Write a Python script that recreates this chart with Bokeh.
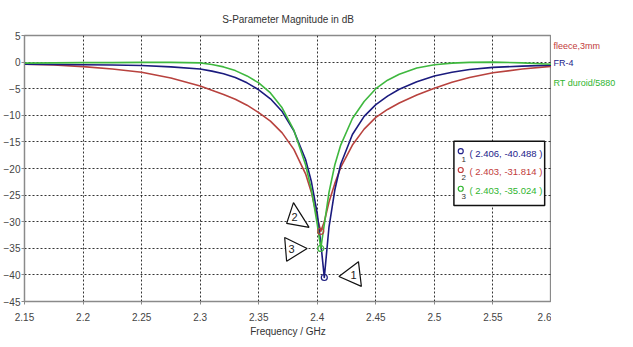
from bokeh.plotting import figure
from bokeh.layouts import row
from bokeh.models import FixedTicker, Range1d
from bokeh.embed import file_html
from bokeh.resources import INLINE
from bokeh.core.properties import value

# ---------------- data ----------------
freq   = [2.15, 2.175, 2.2, 2.225, 2.25, 2.275, 2.3, 2.31, 2.32, 2.33, 2.34, 2.35, 2.36,
          2.37, 2.38, 2.39, 2.395, 2.4, 2.403, 2.406, 2.41, 2.415, 2.42, 2.43, 2.44,
          2.45, 2.46, 2.47, 2.485, 2.5, 2.515, 2.53, 2.55, 2.575, 2.6]
fleece = [-0.4, -0.55, -0.85, -1.3, -1.9, -3.0, -4.5, -5.3, -6.1, -7.0, -8.1, -9.5, -11.1,
          -13.3, -16.4, -21.0, -24.5, -29.3, -31.814, -30.0, -26.3, -22.8, -19.8, -15.6, -12.6,
          -10.4, -8.9, -7.7, -6.2, -4.9, -3.8, -2.9, -2.0, -1.3, -0.8]
fr4    = [-0.4, -0.45, -0.5, -0.55, -0.65, -0.9, -1.3, -1.7, -2.2, -2.9, -3.9, -5.2, -6.9,
          -9.3, -12.9, -18.3, -22.5, -28.5, -34.0, -40.488, -31.0, -24.0, -19.2, -13.6, -10.2,
          -8.0, -6.4, -5.1, -3.7, -2.6, -1.9, -1.4, -1.0, -0.75, -0.6]
rt     = [-0.2, -0.15, -0.1, -0.1, -0.05, -0.05, -0.15, -0.45, -0.9, -1.6, -2.6, -3.9, -5.8,
          -8.6, -12.8, -19.3, -24.0, -30.5, -35.024, -30.5, -24.5, -19.3, -15.6, -10.6, -7.4,
          -5.0, -3.4, -2.3, -1.1, -0.5, -0.2, -0.05, 0.0, -0.15, -0.4]
series_names = ["fleece,3mm", "FR-4", "RT duroid/5880"]

marker_ids  = ["1", "2", "3"]
marker_freq = [2.406, 2.403, 2.403]
marker_db   = [-40.488, -31.814, -35.024]

x_ticks = [2.15, 2.2, 2.25, 2.3, 2.35, 2.4, 2.45, 2.5, 2.55, 2.6]
x_tick_labels = ["2.15", "2.2", "2.25", "2.3", "2.35", "2.4", "2.45", "2.5", "2.55", "2.6"]
y_ticks = [-45, -40, -35, -30, -25, -20, -15, -10, -5, 0, 5]

# ---------------- style / layout ----------------
FONT = "Liberation Sans"
RED, BLUE, GREEN = "#b8423e", "#1b1b7e", "#3fb83f"
TXT_RED, TXT_BLUE, TXT_GREEN = "#c23b3b", "#22228a", "#2fb52f"
series_colors = [RED, BLUE, GREEN]
series_text_colors = [TXT_RED, TXT_BLUE, TXT_GREEN]
marker_colors = [BLUE, RED, GREEN]
marker_text_colors = [TXT_BLUE, TXT_RED, TXT_GREEN]
BORDER = "#8a8a8a"

W_TOTAL, H = 617, 339
FL, FT, FR, FB = 18, 35, 0, 35   # borders of the main figure
W_MAIN = 551
W_SIDE = W_TOTAL - W_MAIN
X0, X1, Y0, Y1 = 2.15, 2.6, -45, 5

# map a position measured on the 633x347 reference to data coordinates
R_L, R_R, R_T, R_B = 23.0, 563.0, 35.0, 304.0
def rx(px):
    return X0 + (px - R_L) / (R_R - R_L) * (X1 - X0)
def ry(py):
    return Y1 - (py - R_T) / (R_B - R_T) * (Y1 - Y0)

y_range = Range1d(Y0, Y1)
p = figure(width=W_MAIN, height=H, output_backend="svg", toolbar_location=None,
           x_range=Range1d(X0, X1), y_range=y_range,
           min_border_left=FL, min_border_top=FT,
           min_border_right=FR, min_border_bottom=FB,
           background_fill_color="white", border_fill_color="white")
p.outline_line_color = BORDER
p.outline_line_width = 1.3

p.title.text = "S-Parameter Magnitude in dB"
p.title.align = "center"
p.title.text_font = FONT
p.title.text_font_size = "10px"
p.title.text_font_style = "normal"
p.title.text_color = "#333333"
p.title.standoff = 22

for ax in (p.xaxis[0], p.yaxis[0]):
    ax.axis_line_color = BORDER
    ax.axis_line_width = 1.2
    ax.major_tick_line_color = BORDER
    ax.major_tick_out = 3
    ax.major_tick_in = 0
    ax.minor_tick_line_color = None
    ax.major_label_text_font = FONT
    ax.major_label_text_font_size = "10px"
    ax.major_label_text_color = "#444444"
    ax.major_label_standoff = 1

p.xaxis.ticker = FixedTicker(ticks=x_ticks)
p.xaxis.major_label_overrides = {t: l for t, l in zip(x_ticks, x_tick_labels)}
p.xaxis.major_label_standoff = 8
p.xaxis.axis_label = "Frequency / GHz"
p.xaxis.axis_label_text_font = FONT
p.xaxis.axis_label_text_font_size = "10px"
p.xaxis.axis_label_text_font_style = "normal"
p.xaxis.axis_label_text_color = "#333333"
p.xaxis.axis_label_standoff = 2
p.yaxis.ticker = FixedTicker(ticks=y_ticks)

p.grid.grid_line_color = "#111111"
p.grid.grid_line_dash = "2 2"
p.grid.grid_line_alpha = 0.85

# curves
for vals, col in zip([fleece, fr4, rt], series_colors):
    p.line(freq, vals, line_color=col, line_width=1.6)

# marker circles on curves
p.scatter(marker_freq, marker_db, marker="circle_dot", size=6, fill_color=None,
          line_color=marker_colors, line_width=1.2)

# triangular callouts (reference-pixel offsets from each marker)
tri_px = [[(35, -16), (15, -1), (38, 9)],
          [(-28, -29), (-12, -4), (-35, -8)],
          [(-37, -11), (-14, 0), (-35, 13)]]
num_px = [(30, -3), (-27, -15), (-30, 1)]
xs, ys, nx, ny = [], [], [], []
for mf, md, tri, npx in zip(marker_freq, marker_db, tri_px, num_px):
    xs.append([mf + dx / 1200.0 for dx, dy in tri])
    ys.append([md - dy / 5.38 for dx, dy in tri])
    nx.append(mf + npx[0] / 1200.0)
    ny.append(md - npx[1] / 5.38)
p.patches(xs, ys, fill_color="white", line_color="#111111", line_width=1.2)
p.text(nx, ny, text=marker_ids, text_font=value(FONT), text_font_size="11px",
       text_color="#222222", text_align="center", text_baseline="middle")

# marker readout box
p.quad(left=[rx(463)], right=[rx(556)], top=[ry(142)], bottom=[ry(207)],
       fill_color="white", line_color="#111111", line_width=1.5)
rows = [154, 173, 192]
readouts = ["( %.3f, %.3f )" % (f, v) for f, v in zip(marker_freq, marker_db)]
p.scatter([rx(470)] * 3, [ry(r - 2) for r in rows], marker="circle", size=5,
          fill_color=None, line_color=marker_text_colors, line_width=1.2)
p.text([rx(473)] * 3, [ry(r + 6) for r in rows], text=marker_ids,
       text_font=value(FONT), text_font_size="8px", text_color="#333333",
       text_align="center", text_baseline="middle")
p.text([rx(479)] * 3, [ry(r) for r in rows], text=readouts,
       text_font=value(FONT), text_font_size="9.5px", text_color=marker_text_colors,
       text_baseline="middle")

# side panel holding the series names; shares the dB range so rows line up
side = figure(width=W_SIDE, height=H, output_backend="svg", toolbar_location=None,
              x_range=Range1d(0, W_SIDE), y_range=y_range,
              x_axis_location=None, y_axis_location=None,
              min_border=0, background_fill_color="white", border_fill_color="white")
side.outline_line_color = None
side.grid.visible = False
side.text(x=[2] * 3, y=[ry(46), ry(63), ry(83)], text=series_names, text_font=value(FONT),
          text_font_size="9px", text_color=series_text_colors, text_baseline="middle")

layout = row(p, side, spacing=0)
open("out.html", "w").write(file_html(layout, INLINE))
